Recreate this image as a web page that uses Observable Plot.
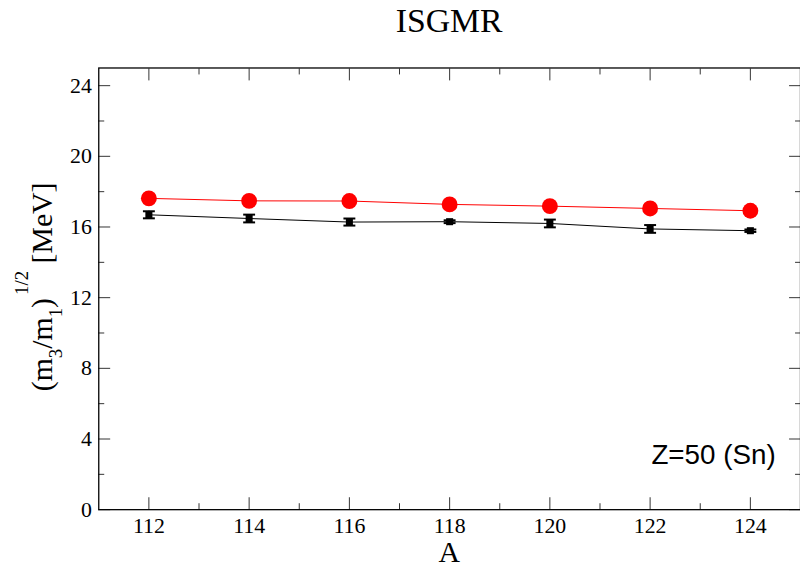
<!DOCTYPE html>
<html><head><meta charset="utf-8">
<script src="https://cdn.jsdelivr.net/npm/d3@7"></script>
<script src="https://cdn.jsdelivr.net/npm/@observablehq/plot@0.6"></script>
<style>html,body{margin:0;padding:0;overflow:hidden;background:#fff;} #chart{width:800px;height:572px;overflow:hidden;}</style>
</head><body><div id="chart"></div>
<script>
const massNumbers = [112, 114, 116, 118, 120, 122, 124];
const theoryValues = [17.62, 17.48, 17.47, 17.28, 17.18, 17.05, 16.92];
const expValues = [16.69, 16.48, 16.28, 16.30, 16.20, 15.89, 15.79];
const expErrors = [0.20, 0.22, 0.20, 0.08, 0.22, 0.22, 0.07];
const xMajorTicks = [112, 114, 116, 118, 120, 122, 124];
const xMinorTicks = [113, 115, 117, 119, 121, 123];
const yMajorTicks = [0, 4, 8, 12, 16, 20, 24];
const yMinorTicks = [2, 6, 10, 14, 18, 22];
const titleText = "ISGMR";
const xLabelText = "A";
const annotationText = "Z=50 (Sn)";

const theory = massNumbers.map((A, i) => ({A, v: theoryValues[i]}));
const exp = massNumbers.map((A, i) => ({A, v: expValues[i], lo: expValues[i] - expErrors[i], hi: expValues[i] + expErrors[i]}));

const capSymbol = {draw(ctx) { ctx.moveTo(-6, 0); ctx.lineTo(6, 0); }};
const serif = "Liberation Serif";
const sans = "Liberation Sans";
const blank = () => "";

const plot = Plot.plot({
  width: 806, height: 572,
  marginLeft: 99, marginRight: 0, marginTop: 68, marginBottom: 59,
  style: {fontSize: "22px", color: "#000", background: "#fff", overflow: "visible"},
  x: {domain: [111, 125]},
  y: {domain: [0, 25]},
  marks: [
    // inward ticks, all four sides
    Plot.axisX(xMajorTicks, {anchor: "bottom", tickSize: -12, tickFormat: blank, label: null, stroke: "#333"}),
    Plot.axisX(xMinorTicks, {anchor: "bottom", tickSize: -6, tickFormat: blank, label: null, stroke: "#333"}),
    Plot.axisX(xMajorTicks, {anchor: "top", tickSize: -12, tickFormat: blank, label: null, stroke: "#333"}),
    Plot.axisX(xMinorTicks, {anchor: "top", tickSize: -6, tickFormat: blank, label: null, stroke: "#333"}),
    Plot.axisY(yMajorTicks, {anchor: "left", tickSize: -12, tickFormat: blank, label: null, stroke: "#333"}),
    Plot.axisY(yMinorTicks, {anchor: "left", tickSize: -6, tickFormat: blank, label: null, stroke: "#333"}),
    Plot.axisY(yMajorTicks, {anchor: "right", tickSize: -12, tickFormat: blank, label: null, stroke: "#333"}),
    Plot.axisY(yMinorTicks, {anchor: "right", tickSize: -6, tickFormat: blank, label: null, stroke: "#333"}),
    // tick labels (serif, as text marks on the scales)
    Plot.text(xMajorTicks, {x: d => d, text: d => String(d), frameAnchor: "bottom", dy: 8, lineAnchor: "top", fontSize: 22, fontFamily: serif, fill: "#000"}),
    Plot.text(yMajorTicks, {y: d => d, text: d => String(d), frameAnchor: "left", dx: -7, textAnchor: "end", fontSize: 22, fontFamily: serif, fill: "#000"}),
    Plot.frame({stroke: "#000", strokeWidth: 1.3}),
    // series
    Plot.line(exp, {x: "A", y: "v", stroke: "#000", strokeWidth: 1}),
    Plot.line(theory, {x: "A", y: "v", stroke: "#ff0000", strokeWidth: 1}),
    Plot.ruleX(exp, {x: "A", y1: "lo", y2: "hi", stroke: "#000", strokeWidth: 2}),
    Plot.dot(exp, {x: "A", y: "lo", symbol: capSymbol, stroke: "#000", strokeWidth: 2, r: 6}),
    Plot.dot(exp, {x: "A", y: "hi", symbol: capSymbol, stroke: "#000", strokeWidth: 2, r: 6}),
    Plot.dot(exp, {x: "A", y: "v", symbol: "square", fill: "#000", r: 4}),
    Plot.dot(theory, {x: "A", y: "v", fill: "#ff0000", r: 8}),
    Plot.text([annotationText], {frameAnchor: "bottom-right", dx: -25, dy: -46, lineAnchor: "bottom", textAnchor: "end", fontSize: 28, fontFamily: sans, fill: "#000"})
  ]
});

const svg = d3.select(plot);
svg.attr("font-family", serif);
svg.selectAll("text").each(function() {
  const fam = this.textContent === annotationText ? sans : serif;
  this.setAttribute("font-family", fam);
  this.style.setProperty("font-family", fam, "important");
});
svg.append("text").attr("x", 452.5).attr("y", 32).attr("text-anchor", "middle")
  .style("font-family", serif).attr("font-size", 34).attr("fill", "#000").text(titleText);
svg.append("text").attr("x", 452.5).attr("y", 566).attr("text-anchor", "middle")
  .style("font-family", serif).attr("font-size", 30).attr("fill", "#000").text(xLabelText);
const yl = svg.append("text").attr("transform", "translate(52,289) rotate(-90)").attr("text-anchor", "middle")
  .style("font-family", serif).attr("font-size", 30).attr("fill", "#000");
yl.append("tspan").text("(m");
yl.append("tspan").attr("dy", 10).attr("font-size", 19).text("3");
yl.append("tspan").attr("dy", -10).text("/m");
yl.append("tspan").attr("dy", 10).attr("font-size", 19).text("1");
yl.append("tspan").attr("dy", -10).text(")");
yl.append("tspan").attr("dy", -24).attr("dx", 3).attr("font-size", 19).text("1/2");
yl.append("tspan").attr("dy", 24).text(" [MeV]");

document.getElementById("chart").appendChild(plot);
</script>
</body></html>
